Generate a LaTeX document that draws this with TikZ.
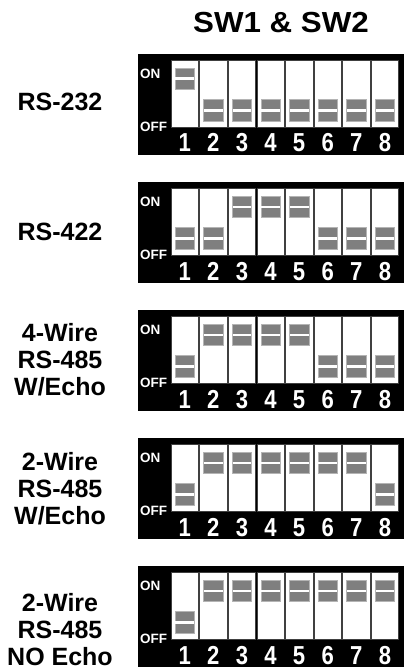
\documentclass[tikz,border=0pt]{standalone}
\usepackage{fontspec}
\setmainfont{Liberation Sans}
\definecolor{knobc}{HTML}{7F7F7F}
\definecolor{knobedge}{HTML}{B4B4B4}
\tikzset{
  title/.style={font=\fontsize{29}{31}\selectfont\bfseries, inner sep=0pt},
  modelbl/.style={font=\fontsize{25}{27}\selectfont\bfseries, align=center, inner sep=0pt},
  swlbl/.style={font=\fontsize{13.5}{14}\selectfont\bfseries, text=white, anchor=west, inner sep=0pt},
  digit/.style={font=\fontsize{26}{27}\selectfont\bfseries, text=white, inner sep=0pt, anchor=base},
  panelbox/.style={fill=black},
  slotbox/.style={fill=white, draw=black!75, line width=0.6pt},
  knobbox/.style={fill=knobc, draw=knobedge, line width=0.6pt},
  knobgap/.style={fill=white}
}
\newcommand\dippanel[3]{%
  \fill[panelbox] (137.5,#2) rectangle (404,#2+101);
  \node[swlbl] (on#1) at (140,#2+20) {ON};
  \node[swlbl] (off#1) at (140,#2+73) {OFF};
  \foreach \i/\s in {#3} {
    \pgfmathsetmacro\xl{171+(\i-1)*28.6}
    \pgfmathsetmacro\ky{\s==1 ? #2+14 : #2+45.7}
    \draw[slotbox] (\xl,#2+6) rectangle ++(27.4,67.7);
    \draw[knobbox] (\xl+4,\ky) rectangle ++(19.4,21.5);
    \fill[knobgap] (\xl+4.3,\ky+9.5) rectangle ++(18.8,2.5);
    \node[digit] (d#1\i) at (\xl+13.7,#2+98) {\scalebox{0.85}[1]{\i}};
  }
}
\begin{document}
\begin{tikzpicture}[x=1pt,y=-1pt]
\useasboundingbox (0,0) rectangle (404,671);
\node[title] (head) at (281,23) {\scalebox{1.08}[1]{SW1 \& SW2}};

\dippanel{a}{54}{1/1,2/0,3/0,4/0,5/0,6/0,7/0,8/0}
\node[modelbl] (la) at (60,102) {RS-232};

\dippanel{b}{182}{1/0,2/0,3/1,4/1,5/1,6/0,7/0,8/0}
\node[modelbl] (lb) at (60,232) {RS-422};

\dippanel{c}{310}{1/0,2/1,3/1,4/1,5/1,6/0,7/0,8/0}
\node[modelbl] (lc) at (60,360) {4-Wire\\RS-485\\W/Echo};

\dippanel{d}{438}{1/0,2/1,3/1,4/1,5/1,6/1,7/1,8/0}
\node[modelbl] (ld) at (60,489) {2-Wire\\RS-485\\W/Echo};

\dippanel{e}{566}{1/0,2/1,3/1,4/1,5/1,6/1,7/1,8/1}
\node[modelbl] (le) at (60,630) {2-Wire\\RS-485\\NO Echo};
\end{tikzpicture}
\end{document}
